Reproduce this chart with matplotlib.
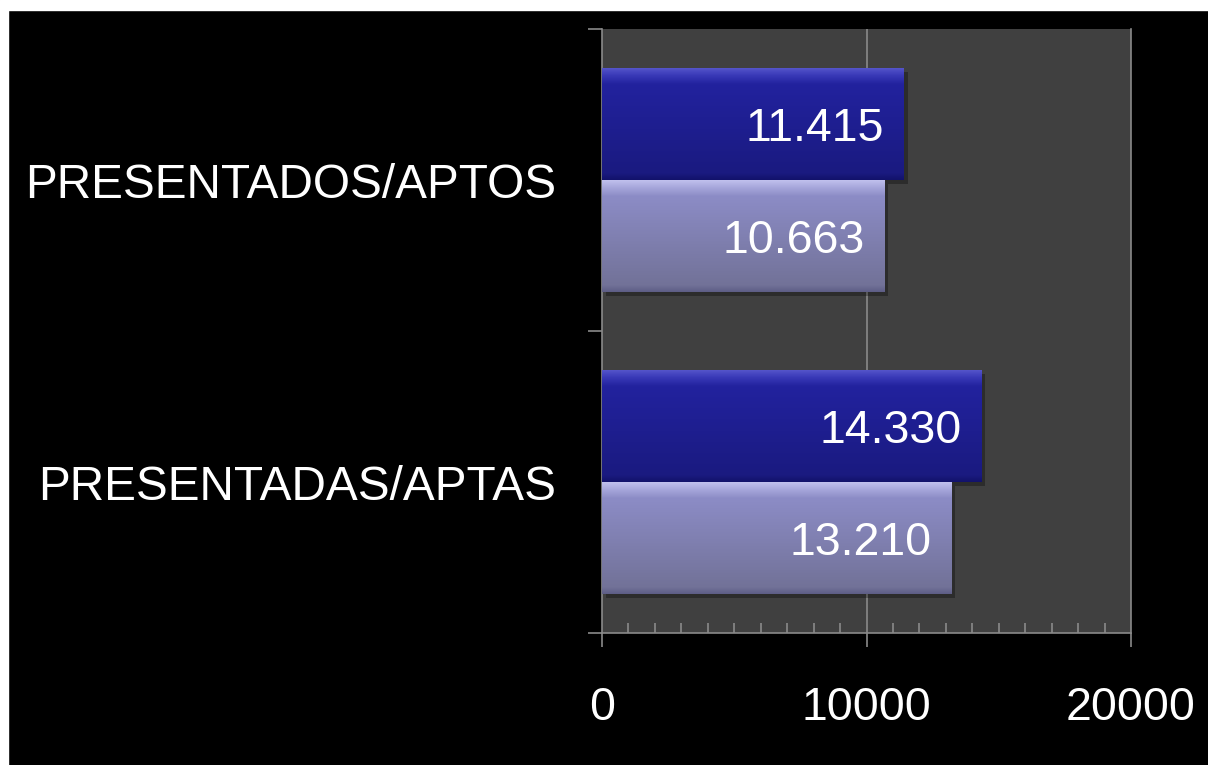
"""Horizontal bars: presentados / aptos (dark slide style)."""

import matplotlib.pyplot as plt
import numpy as np
from matplotlib.colors import LinearSegmentedColormap
from matplotlib.patches import Rectangle

# data (bottom to top, as drawn)
categories = ["PRESENTADAS/APTAS", "PRESENTADOS/APTOS"]
presentados = [14330, 11415]
aptos = [13210, 10663]
x_ticks = [0, 10000, 20000]

plt.rcParams['font.family'] = ['Liberation Sans', 'DejaVu Sans']

fig = plt.figure(figsize=(12.08, 7.65), dpi=100, facecolor='black')
# thin white strips at top and left of the original slide capture
fig.add_artist(Rectangle((0, 1 - 10 / 765), 1, 10 / 765, transform=fig.transFigure,
                         color='white', zorder=10))
fig.add_artist(Rectangle((0, 0), 8 / 1208, 1, transform=fig.transFigure,
                         color='white', zorder=10))

ax = fig.add_axes([602 / 1208, 1 - 633 / 765, 529 / 1208, 604 / 765])
ax.set_facecolor('#404040')

y = np.arange(len(categories))
h = 0.371
dark_cmap = LinearSegmentedColormap.from_list(
    'dark', [(0, '#12126a'), (0.06, '#1a1a80'), (0.85, '#22229e'), (0.93, '#3a3ab8'), (1, '#5858cc')])
light_cmap = LinearSegmentedColormap.from_list(
    'light', [(0, '#5e5e86'), (0.06, '#727298'), (0.85, '#8c8cc6'), (0.93, '#a8a8dc'), (1, '#c4c4f0')])

grad = np.linspace(0, 1, 256).reshape(-1, 1)

def draw_bars(vals, offset, cmap):
    bars = ax.barh(y + offset, vals, height=h, color=cmap(0.5), zorder=3, linewidth=0)
    for b, v in zip(bars, vals):
        x0, y0 = b.get_x(), b.get_y()
        w, hh = b.get_width(), b.get_height()
        # soft shadow to the right / below
        ax.add_patch(Rectangle((x0 + 150, y0 - 0.012), w, hh, color='black', alpha=0.3,
                               zorder=2, linewidth=0))
        im = ax.imshow(grad, extent=[x0, x0 + w, y0, y0 + hh], aspect='auto', cmap=cmap,
                       origin='lower', zorder=3.5)
        im.set_clip_path(b)
        ax.text(x0 + w - 740, y0 + hh / 2, f"{v:,}".replace(",", "."), color='white',
                fontsize=33.5, ha='right', va='center_baseline', zorder=5)

draw_bars(presentados, h / 2, dark_cmap)
draw_bars(aptos, -h / 2, light_cmap)

ax.set_xlim(0, 20000)
ax.set_ylim(-0.5, len(categories) - 0.5)

# gridline at 10000
ax.axvline(10000, color='#8a8a8a', linewidth=1.2, zorder=1)

ax.spines['top'].set_visible(False)
for side in ('left', 'right', 'bottom'):
    ax.spines[side].set_color('#8a8a8a')
    ax.spines[side].set_linewidth(1.2)

ax.set_xticks(x_ticks)
ax.set_xticklabels([str(t) for t in x_ticks])
ax.set_xticks(np.arange(1000, 20000, 1000), minor=True)
ax.tick_params(axis='x', which='major', direction='out', length=10, width=1.2,
               color='#8a8a8a', labelcolor='white', labelsize=33.5, pad=28)
ax.tick_params(axis='x', which='minor', direction='in', length=7, width=1.2,
               color='#8a8a8a')

# category boundaries as ticks, names at centres
ax.set_yticks([-0.5, 0.5, 1.5])
ax.set_yticklabels([])
ax.set_yticks(y, minor=True)
ax.set_yticklabels(categories, minor=True)
ax.tick_params(axis='y', which='major', direction='out', length=10, width=1.2,
               color='#8a8a8a')
ax.tick_params(axis='y', which='minor', length=0, labelcolor='white', labelsize=34.4, pad=33)

fig.savefig('out.png', dpi=100, facecolor='black')
